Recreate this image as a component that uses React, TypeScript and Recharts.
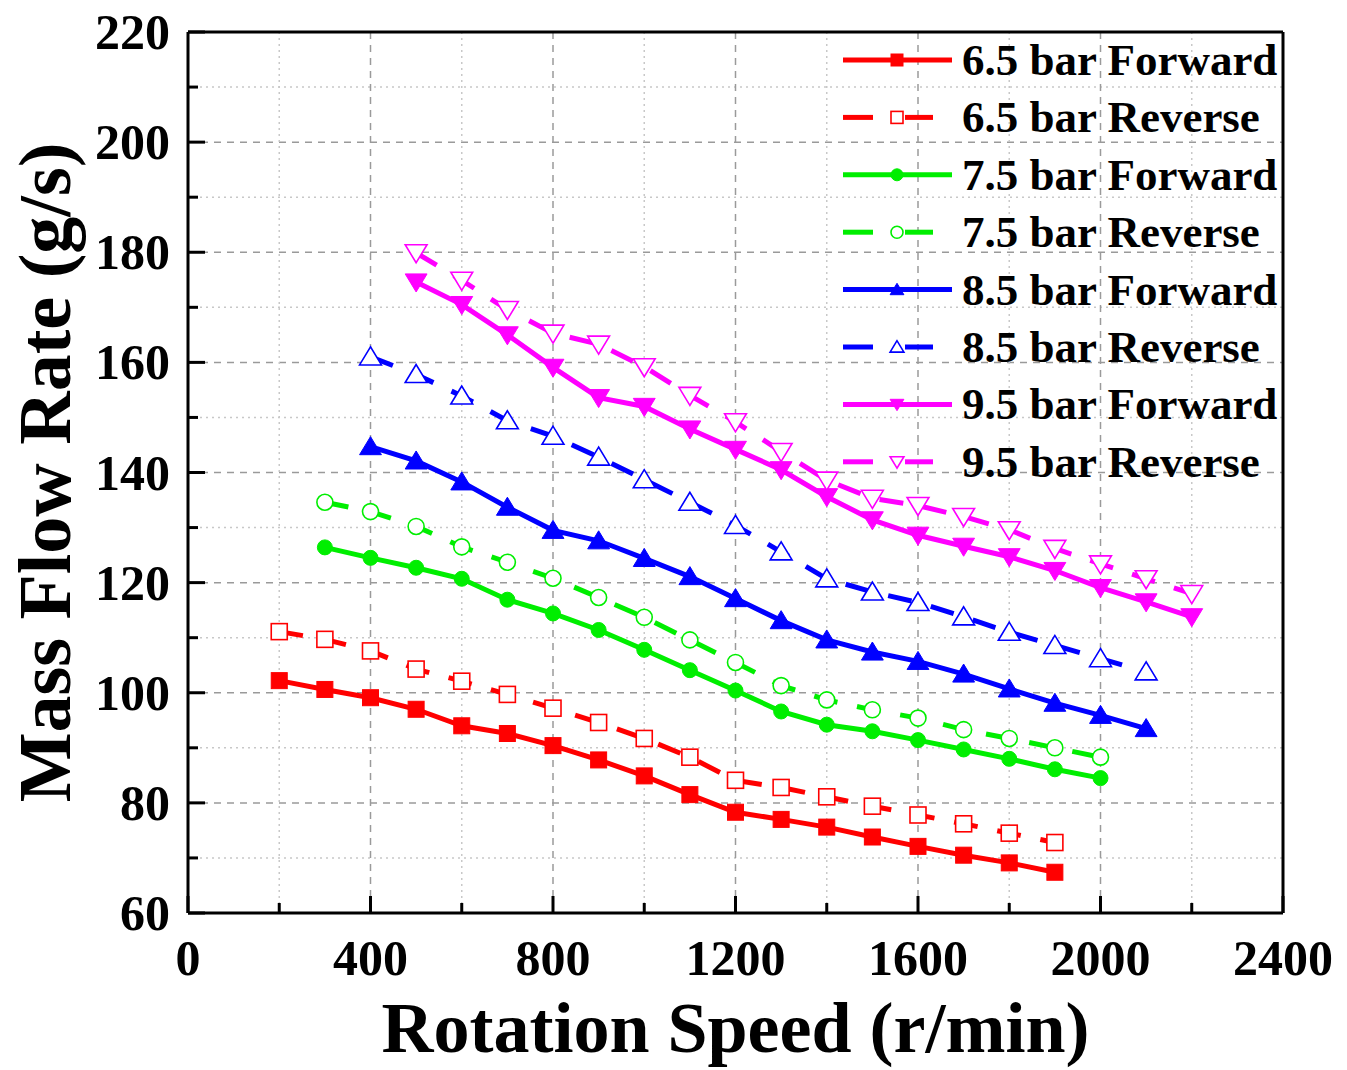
import React from "react";
import { LineChart, Line, XAxis, YAxis, CartesianGrid, ReferenceLine, Legend, Label } from "recharts";

// rotation speed (r/min) – one row per 100 r/min
const rpm = [200, 300, 400, 500, 600, 700, 800, 900, 1000, 1100, 1200, 1300, 1400, 1500, 1600, 1700, 1800, 1900, 2000, 2100, 2200];

// mass flow rate (g/s), null where the run has no point
const fwd65 = [102.2, 100.6, 99.1, 97.0, 94.0, 92.6, 90.4, 87.8, 84.9, 81.5, 78.3, 77.0, 75.6, 73.8, 72.1, 70.5, 69.1, 67.4, null, null, null];
const rev65 = [111.1, 109.7, 107.6, 104.3, 102.1, 99.7, 97.2, 94.6, 91.7, 88.3, 84.1, 82.8, 81.1, 79.4, 77.8, 76.2, 74.5, 72.8, null, null, null];
const fwd75 = [null, 126.4, 124.5, 122.7, 120.7, 116.9, 114.4, 111.4, 107.8, 104.1, 100.4, 96.6, 94.2, 93.0, 91.4, 89.7, 88.0, 86.1, 84.5, null, null];
const rev75 = [null, 134.6, 132.9, 130.2, 126.5, 123.7, 120.8, 117.3, 113.7, 109.6, 105.5, 101.3, 98.7, 96.9, 95.4, 93.3, 91.7, 90.0, 88.3, null, null];
const fwd85 = [null, null, 144.7, 142.1, 138.3, 133.7, 129.5, 127.6, 124.4, 121.1, 117.1, 113.1, 109.6, 107.4, 105.7, 103.4, 100.7, 98.1, 95.9, 93.5, null];
const rev85 = [null, null, 161.0, 157.8, 153.9, 149.4, 146.6, 142.8, 138.7, 134.6, 130.4, 125.6, 120.7, 118.3, 116.4, 113.8, 111.0, 108.6, 106.2, 103.8, null];
const fwd95 = [null, null, null, 174.6, 170.5, 165.0, 159.1, 153.6, 152.0, 147.9, 144.2, 140.5, 135.6, 131.4, 128.6, 126.6, 124.7, 122.2, 119.1, 116.5, 113.8];
const rev95 = [null, null, null, 179.9, 174.9, 169.6, 165.3, 163.3, 159.2, 154.0, 149.2, 143.8, 138.6, 135.3, 134.0, 132.0, 129.6, 126.2, 123.4, 120.7, 118.0];

// axis ticks (minor + major); labels only on the major ones
const xTicks = [0, 200, 400, 600, 800, 1000, 1200, 1400, 1600, 1800, 2000, 2200, 2400];
const yTicks = [60, 70, 80, 90, 100, 110, 120, 130, 140, 150, 160, 170, 180, 190, 200, 210, 220];
const X_MAJOR = 400;
const Y_MAJOR = 20;

type Shape = "square" | "circle" | "up" | "down";

const SERIES: { key: string; label: string; color: string; values: (number | null)[]; open: boolean; shape: Shape }[] = [
  { key: "f65", label: "6.5 bar Forward", color: "#ff0000", values: fwd65, open: false, shape: "square" },
  { key: "r65", label: "6.5 bar Reverse", color: "#ff0000", values: rev65, open: true, shape: "square" },
  { key: "f75", label: "7.5 bar Forward", color: "#00ee00", values: fwd75, open: false, shape: "circle" },
  { key: "r75", label: "7.5 bar Reverse", color: "#00ee00", values: rev75, open: true, shape: "circle" },
  { key: "f85", label: "8.5 bar Forward", color: "#0000ff", values: fwd85, open: false, shape: "up" },
  { key: "r85", label: "8.5 bar Reverse", color: "#0000ff", values: rev85, open: true, shape: "up" },
  { key: "f95", label: "9.5 bar Forward", color: "#ff00ff", values: fwd95, open: false, shape: "down" },
  { key: "r95", label: "9.5 bar Reverse", color: "#ff00ff", values: rev95, open: true, shape: "down" },
];

const data = rpm.map((x, i) => {
  const row: Record<string, number | null> = { rpm: x };
  SERIES.forEach((s) => (row[s.key] = s.values[i]));
  return row;
});

const FONT = "'Times New Roman', 'Liberation Serif', serif";
const DASH = "24 20";

function Marker({ cx, cy, shape, color, open, r }: { cx: number; cy: number; shape: Shape; color: string; open: boolean; r: number }) {
  const fill = open ? "#fff" : color;
  const stroke = color;
  const sw = open ? 1.6 : 1;
  if (shape === "square")
    return <rect x={cx - r} y={cy - r} width={2 * r} height={2 * r} fill={fill} stroke={stroke} strokeWidth={sw} />;
  if (shape === "circle") return <circle cx={cx} cy={cy} r={r} fill={fill} stroke={stroke} strokeWidth={sw} />;
  const k = shape === "up" ? 1 : -1;
  const pts = [
    [cx, cy - k * r * 1.05],
    [cx - r * 1.15, cy + k * r * 0.85],
    [cx + r * 1.15, cy + k * r * 0.85],
  ]
    .map((p) => p.join(","))
    .join(" ");
  return <polygon points={pts} fill={fill} stroke={stroke} strokeWidth={sw} strokeLinejoin="miter" />;
}

function markerSize(shape: Shape, open: boolean) {
  if (shape === "up" || shape === "down") return open ? 9.5 : 9.5;
  if (shape === "circle") return open ? 8 : 7.5;
  return 8;
}

function XTick(props: any) {
  const { x, y, payload } = props;
  const major = payload.value % X_MAJOR === 0;
  return (
    <g>
      <line x1={x} x2={x} y1={y} y2={y - (major ? 17 : 10)} stroke="#000" strokeWidth={3} />
      {major && (
        <text x={x} y={y + 62} textAnchor="middle" fontFamily={FONT} fontWeight="bold" fontSize={50} fill="#000">
          {payload.value}
        </text>
      )}
    </g>
  );
}

function YTick(props: any) {
  const { x, y, payload } = props;
  const major = payload.value % Y_MAJOR === 0;
  return (
    <g>
      <line x1={x} x2={x + (major ? 17 : 10)} y1={y} y2={y} stroke="#000" strokeWidth={3} />
      {major && (
        <text x={x - 18} y={y} textAnchor="end" dominantBaseline="central" fontFamily={FONT} fontWeight="bold" fontSize={50} fill="#000">
          {payload.value}
        </text>
      )}
    </g>
  );
}

function LegendBox() {
  const rowH = 57.4;
  return (
    <svg width={470} height={470} style={{ display: "block" }}>
      {SERIES.map((s, i) => {
        const cy = 28 + i * rowH;
        return (
          <g key={s.key}>
            {s.open ? (
              <>
                <line x1={8} x2={38} y1={cy} y2={cy} stroke={s.color} strokeWidth={5} />
                <line x1={70} x2={98} y1={cy} y2={cy} stroke={s.color} strokeWidth={5} />
              </>
            ) : (
              <line x1={8} x2={117} y1={cy} y2={cy} stroke={s.color} strokeWidth={5} />
            )}
            <Marker cx={62} cy={cy} shape={s.shape} color={s.color} open={s.open} r={6} />
            <text x={127} y={cy} dominantBaseline="central" fontFamily={FONT} fontWeight="bold" fontSize={45} fill="#000">
              {s.label}
            </text>
          </g>
        );
      })}
    </svg>
  );
}

export default function App() {
  return (
    <div style={{ position: "absolute", left: 0, top: 0, background: "#fff" }}>
      <LineChart width={1347} height={1070} data={data} margin={{ top: 32, right: 64, left: 0, bottom: 0 }}>
        <CartesianGrid
          horizontal={(p: any) => {
            const v = yTicks[p.index];
            const major = v !== undefined && v % Y_MAJOR === 0;
            return (
              <line key={`h-${p.index}`} x1={p.x1} x2={p.x2} y1={p.y1} y2={p.y2} stroke={major ? "#9a9a9a" : "#c8c8c8"} strokeWidth={1.5} strokeDasharray={major ? "7 6" : "2 4"} />
            );
          }}
          vertical={(p: any) => {
            const v = xTicks[p.index];
            const major = v !== undefined && v % X_MAJOR === 0;
            return (
              <line key={`v-${p.index}`} x1={p.x1} x2={p.x2} y1={p.y1} y2={p.y2} stroke={major ? "#9a9a9a" : "#c8c8c8"} strokeWidth={1.5} strokeDasharray={major ? "7 6" : "2 4"} />
            );
          }}
        />
        <XAxis
          dataKey="rpm"
          type="number"
          domain={[0, 2400]}
          ticks={xTicks}
          interval={0}
          height={157}
          tickSize={0}
          tickMargin={0}
          tickLine={false}
          axisLine={{ stroke: "#000", strokeWidth: 3 }}
          tick={<XTick />}
        >
          <Label
            content={(p: any) => {
              const vb = p.viewBox;
              return (
                <text x={vb.x + vb.width / 2} y={vb.y + 139} textAnchor="middle" fontFamily={FONT} fontWeight="bold" fontSize={72} fill="#000">
                  Rotation Speed (r/min)
                </text>
              );
            }}
          />
        </XAxis>
        <YAxis
          type="number"
          domain={[60, 220]}
          ticks={yTicks}
          interval={0}
          width={188}
          tickSize={0}
          tickMargin={0}
          tickLine={false}
          axisLine={{ stroke: "#000", strokeWidth: 3 }}
          tick={<YTick />}
        >
          <Label
            content={(p: any) => {
              const vb = p.viewBox;
              const cx = 45;
              const cy = vb.y + vb.height / 2;
              return (
                <text x={cx} y={cy} transform={`rotate(-90 ${cx} ${cy})`} textAnchor="middle" dominantBaseline="central" fontFamily={FONT} fontWeight="bold" fontSize={74} fill="#000">
                  Mass Flow Rate (g/s)
                </text>
              );
            }}
          />
        </YAxis>
        <ReferenceLine y={220} stroke="#000" strokeWidth={3} />
        <ReferenceLine x={2400} stroke="#000" strokeWidth={3} />
        <Legend
          layout="vertical"
          align="center"
          verticalAlign="middle"
          content={() => <LegendBox />}
          wrapperStyle={{ left: 835, top: 32, width: 470, height: 470 }}
        />
        {SERIES.map((s) => (
          <Line
            key={s.key}
            dataKey={s.key}
            name={s.label}
            stroke={s.color}
            strokeWidth={5}
            strokeDasharray={s.open ? DASH : undefined}
            isAnimationActive={false}
            activeDot={false}
            dot={(p: any) => {
              if (p.cx == null || p.cy == null || p.value == null) return <g key={`${s.key}-${p.index}`} />;
              return (
                <Marker key={`${s.key}-${p.index}`} cx={p.cx} cy={p.cy} shape={s.shape} color={s.color} open={s.open} r={markerSize(s.shape, s.open)} />
              );
            }}
          />
        ))}
      </LineChart>
    </div>
  );
}
